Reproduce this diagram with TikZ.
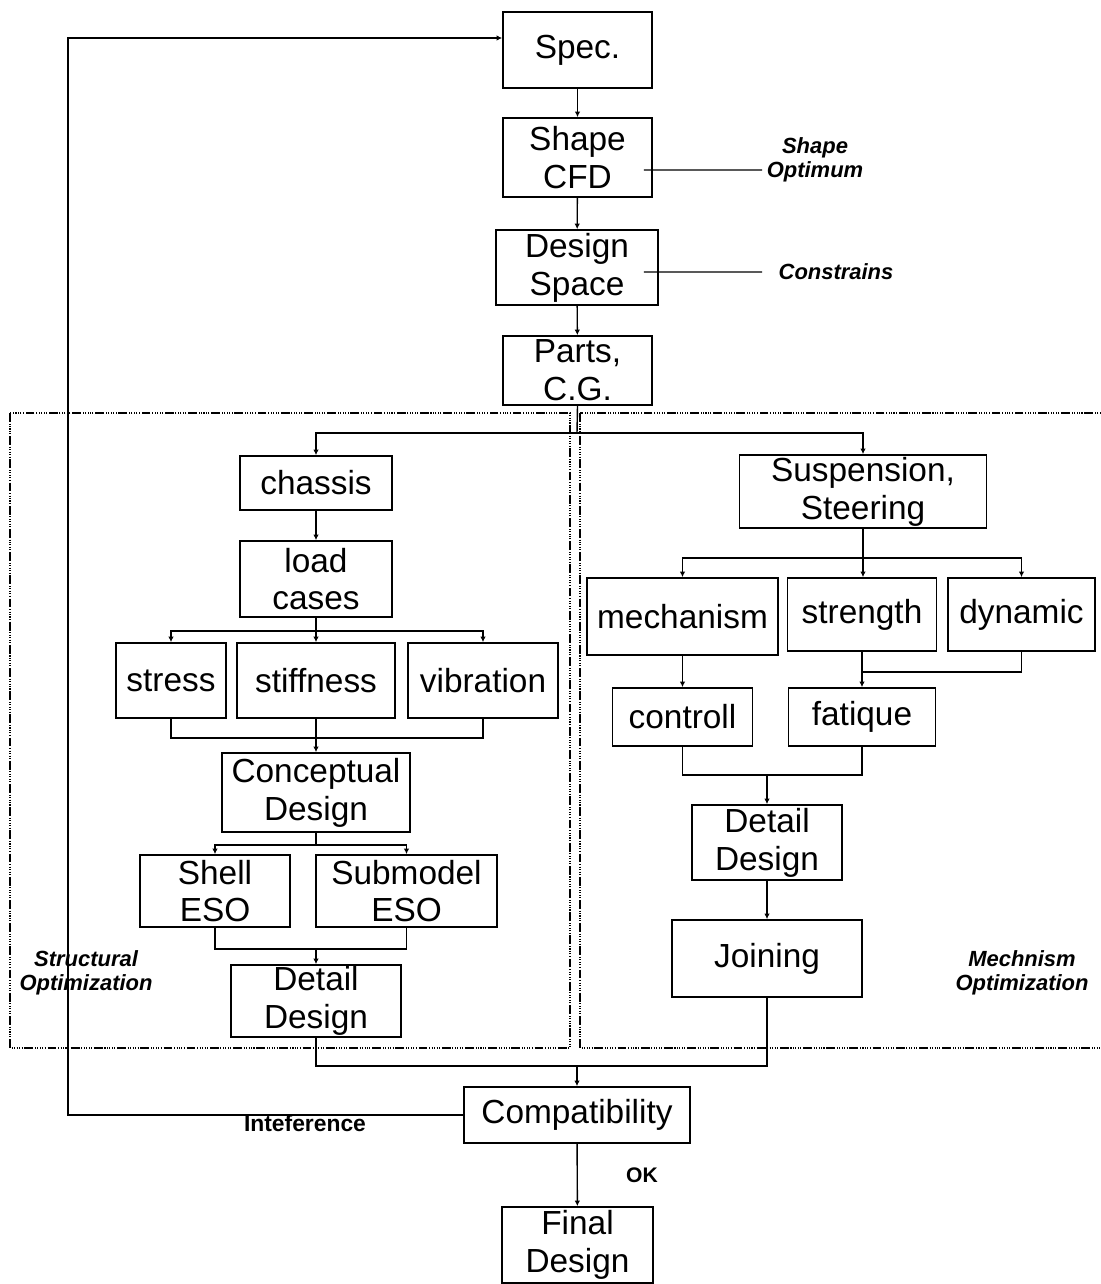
\documentclass[tikz,border=0pt]{standalone}
\usepackage{fontspec}
\setmainfont{Liberation Sans}
\usepackage{tikz}
\usetikzlibrary{arrows.meta,positioning}

\begin{document}
\begin{tikzpicture}[
    x=0.02cm, y=-0.02cm,
    >={Latex[length=1.1mm,width=1.1mm]},
    box/.style={
        rectangle,
        draw=black,
        line width=1pt,
        inner sep=0pt,
        align=center,
        font=\fontsize{19}{21.5}\selectfont
    },
    link/.style={line width=0.8pt},
    note/.style={
        align=center,
        font=\fontsize{12.5}{14}\selectfont\bfseries\itshape
    },
    frame/.style={
        line width=0.6pt,
        dash pattern=on 5pt off 1pt on 0.6pt off 0.8pt on 0.6pt off 0.8pt on 0.6pt off 0.8pt on 0.6pt off 0.8pt on 0.6pt off 1pt
    }
]
\useasboundingbox (0,0) rectangle (1101,1284);

% Optimization frames
\draw[frame] (10,413) rectangle (570,1048);
\draw[frame] (580,413) rectangle (1106,1048);

% Main column
\node[box, minimum width=2.98cm, minimum height=1.52cm] (spec) at (577.5,50) {Spec.};
\node[box, minimum width=2.98cm, minimum height=1.58cm] (shape) at (577.5,157.5) {Shape\\CFD};
\node[box, minimum width=3.24cm, minimum height=1.50cm] (space) at (577,267.5) {Design\\Space};
\node[box, minimum width=2.98cm, minimum height=1.38cm] (parts) at (577.5,370.5) {Parts,\\C.G.};

% Structural branch
\node[box, minimum width=3.04cm, minimum height=1.08cm] (chassis) at (316,483) {chassis};
\node[box, minimum width=3.04cm, minimum height=1.52cm] (load) at (316,579) {load\\cases};
\node[box, minimum width=2.20cm, minimum height=1.50cm] (stress) at (171,680.5) {stress};
\node[box, minimum width=3.16cm, minimum height=1.50cm] (stiff) at (316,680.5) {stiffness};
\node[box, minimum width=3.00cm, minimum height=1.50cm] (vib) at (483,680.5) {vibration};
\node[box, minimum width=3.76cm, minimum height=1.58cm] (concept) at (316,792.5) {Conceptual\\Design};
\node[box, minimum width=3.00cm, minimum height=1.44cm] (shell) at (215,891) {Shell\\ESO};
\node[box, minimum width=3.62cm, minimum height=1.44cm] (sub) at (406.5,891) {Submodel\\ESO};
\node[box, minimum width=3.40cm, minimum height=1.44cm] (detailL) at (316,1001) {Detail\\Design};

% Mechanism branch
\node[box, minimum width=4.94cm, minimum height=1.46cm] (susp) at (863,491.5) {Suspension,\\Steering};
\node[box, minimum width=3.82cm, minimum height=1.54cm] (mech) at (682.5,616.5) {mechanism};
\node[box, minimum width=2.98cm, minimum height=1.46cm] (strength) at (862,614.5) {strength};
\node[box, minimum width=2.94cm, minimum height=1.46cm] (dyn) at (1021.5,614.5) {dynamic};
\node[box, minimum width=2.80cm, minimum height=1.16cm] (controll) at (682.5,717) {controll};
\node[box, minimum width=2.94cm, minimum height=1.16cm] (fatique) at (862,717) {fatique};
\node[box, minimum width=3.00cm, minimum height=1.50cm] (detailR) at (767,842.5) {Detail\\Design};
\node[box, minimum width=3.80cm, minimum height=1.54cm] (joining) at (767,958.5) {Joining};

% Bottom
\node[box, minimum width=4.52cm, minimum height=1.12cm] (compat) at (577,1115) {Compatibility};
\node[box, minimum width=3.02cm, minimum height=1.52cm] (final) at (577.5,1245) {Final\\Design};

% Side labels
\node[note] (shapelbl) at (815,160) {Shape\\Optimum};
\node[note] (conslbl) at (836,272) {Constrains};
\node[note] (structlbl) at (86,973) {Structural\\Optimization};
\node[note] (mechlbl) at (1022,973) {Mechnism\\Optimization};
\node[font=\fontsize{13}{15}\selectfont\bfseries] (interlbl) at (305,1123) {Inteference};
\node[font=\fontsize{12}{14}\selectfont\bfseries] (oklbl) at (642,1175) {OK};

% Split and join points
\coordinate (shapetick) at (762,170);
\coordinate (constick) at (762,272);
\coordinate (split1) at (577,433);
\coordinate (split2) at (316,631);
\coordinate (join1) at (316,738);
\coordinate (split3) at (316,845);
\coordinate (join2) at (316,949);
\coordinate (split4) at (863,558);
\coordinate (join3) at (862,672);
\coordinate (join4) at (767,775);
\coordinate (join5) at (577,1066);
\coordinate (fbtop) at (68,38);

% Main column arrows
\draw[link,->] (spec) -- (shape);
\draw[link,->] (shape) -- (space);
\draw[link,->] (space) -- (parts);
\draw[link] ([xshift=-0.18cm,yshift=-0.25cm]shape.east) -- (shapetick);
\draw[link] ([xshift=-0.3cm,yshift=-0.09cm]space.east) -- (constick);

% Split to both branches
\draw[link] (parts.south) -- (split1);
\draw[link,->] (split1) -| (chassis.north);
\draw[link,->] (split1) -| (susp.north);

% Structural arrows
\draw[link,->] (chassis) -- (load);
\draw[link,->] (load.south) -- (stiff.north);
\draw[link,->] (split2) -| (stress.north);
\draw[link,->] (split2) -| (vib.north);
\draw[link] (stress.south) |- (vib.south |- join1) -- (vib.south);
\draw[link,->] (stiff.south) -- (concept.north);
\draw[link] (concept.south) -- (split3);
\draw[link,->] (split3) -| (shell.north);
\draw[link,->] (split3) -| (sub.north);
\draw[link] (shell.south) |- (sub.south |- join2) -- (sub.south);
\draw[link,->] (join2) -- (detailL.north);

% Mechanism arrows
\draw[link,->] (susp.south) -- (strength.north -| susp.south);
\draw[link,->] (split4) -| (mech.north);
\draw[link,->] (split4) -| (dyn.north);
\draw[link,->] (mech.south) -- (controll.north);
\draw[link] (dyn.south) |- (join3);
\draw[link,->] (strength.south) -- (fatique.north);
\draw[link] (controll.south) |- (fatique.south |- join4) -- (fatique.south);
\draw[link,->] (join4) -- (detailR.north);
\draw[link,->] (detailR) -- (joining);

% Merge to compatibility
\draw[link] (detailL.south) |- (joining.south |- join5) -- (joining.south);
\draw[link,->] (join5) -- (compat.north);
\draw[link,->] (compat) -- (final);

% Feedback loop
\draw[link,->] (compat.west) -| (fbtop) -- (fbtop -| spec.west);

\end{tikzpicture}
\end{document}
